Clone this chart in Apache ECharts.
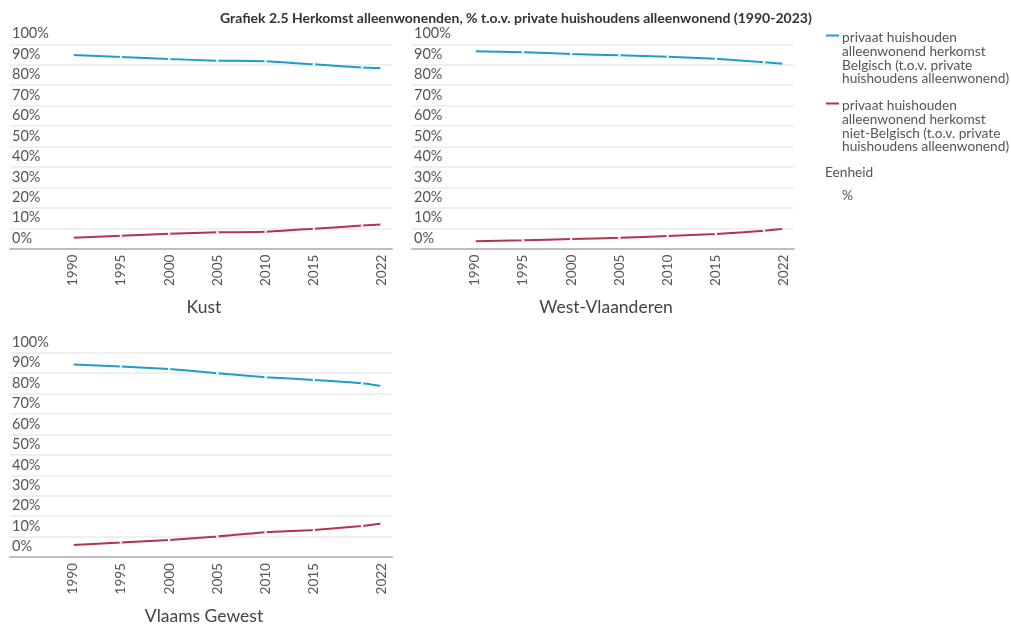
<!DOCTYPE html>
<html>
<head>
<meta charset="utf-8">
<script src="https://cdn.jsdelivr.net/npm/echarts@6/dist/echarts.min.js"></script>
<style>
html,body{margin:0;padding:0;background:#fff;}
#chart{width:1011px;height:626px;}
</style>
</head>
<body>
<div id="chart"></div>
<script>
const chartTitle = 'Grafiek 2.5 Herkomst alleenwonenden, % t.o.v. private huishoudens alleenwonend (1990-2023)';
const years = [1990, 1995, 2000, 2005, 2010, 2015, 2020, 2022];
const tickYears = [1990, 1995, 2000, 2005, 2010, 2015, 2022];
const regions = ['Kust', 'West-Vlaanderen', 'Vlaams Gewest'];
const seriesNames = [
  'privaat huishouden\nalleenwonend herkomst\nBelgisch (t.o.v. private\nhuishoudens alleenwonend)',
  'privaat huishouden\nalleenwonend herkomst\nniet-Belgisch (t.o.v. private\nhuishoudens alleenwonend)'
];
const unitLabel = 'Eenheid';
const unitValue = '%';

const kustBelgisch = [94.8, 93.8, 92.8, 92.0, 91.7, 90.2, 88.7, 88.4];
const kustNietBelgisch = [5.3, 6.3, 7.3, 8.0, 8.3, 9.8, 11.3, 11.8];
const wvlBelgisch = [96.6, 96.1, 95.3, 94.6, 93.9, 92.9, 91.2, 90.5];
const wvlNietBelgisch = [3.6, 4.1, 4.7, 5.3, 6.2, 7.2, 8.8, 9.7];
const vgBelgisch = [94.2, 93.2, 92.0, 90.0, 88.0, 86.7, 85.1, 83.7];
const vgNietBelgisch = [5.9, 7.1, 8.4, 10.1, 12.2, 13.3, 15.2, 16.4];

const regionData = [
  [kustBelgisch, kustNietBelgisch],
  [wvlBelgisch, wvlNietBelgisch],
  [vgBelgisch, vgNietBelgisch]
];

const colors = ['#1f9dc9', '#b3354b'];
const FONT = 'Lato';
const panels = [
  {left: 10, top: 44.3},
  {left: 412, top: 44.3},
  {left: 10, top: 352.7}
];
const PW = 382, PH = 204.4;

const grid = [], xAxis = [], yAxis = [], series = [], graphic = [];

panels.forEach((p, i) => {
  grid.push({left: p.left, top: p.top, width: PW, height: PH, containLabel: false});
  xAxis.push({
    type: 'value', gridIndex: i, min: 1983.5, max: 2023.1,
    axisLine: {show: true, lineStyle: {color: '#bdbdbd', width: 2}},
    axisTick: {show: false},
    splitLine: {show: false},
    axisLabel: {
      customValues: tickYears, rotate: 90, margin: 6,
      color: '#555', fontFamily: FONT, fontSize: 13.5,
      formatter: v => String(v)
    }
  });
  yAxis.push({
    type: 'value', gridIndex: i, min: 0, max: 100, interval: 10,
    axisLine: {show: false}, axisTick: {show: false},
    splitLine: {show: true, lineStyle: {color: '#ebebeb', width: 1.5}},
    axisLabel: {
      inside: true, margin: 2, verticalAlign: 'bottom', padding: [0, 0, 3, 0],
      color: '#555', fontFamily: FONT, fontSize: 14.5,
      formatter: '{value}%'
    }
  });
  regionData[i].forEach((vals, s) => {
    series.push({
      type: 'line', xAxisIndex: i, yAxisIndex: i,
      name: seriesNames[s],
      data: years.map((y, k) => [y, vals[k]]),
      smooth: 0.15,
      symbol: 'circle', symbolSize: 2.5,
      itemStyle: {color: '#ffffff', borderWidth: 0},
      lineStyle: {color: colors[s], width: 2},
      emphasis: {disabled: true},
      z: 3
    });
  });
  graphic.push({
    type: 'text', x: p.left + PW / 2 + 3, y: p.top + PH + 59,
    style: {text: regions[i], fontFamily: FONT, fontSize: 17.5, fill: '#444', textAlign: 'center', textVerticalAlign: 'middle'}
  });
});

// legend (drawn from the series names and colours)
const legendTops = [31, 99];
seriesNames.forEach((name, s) => {
  graphic.push({
    type: 'rect', x: 826, y: legendTops[s] + 3.5, shape: {x: 0, y: 0, width: 13, height: 2},
    style: {fill: colors[s]}
  });
  graphic.push({
    type: 'text', x: 842, y: legendTops[s],
    style: {text: name, fontFamily: FONT, fontSize: 13.7, lineHeight: 13.7, fill: '#555'}
  });
});
graphic.push({
  type: 'text', x: 825, y: 166,
  style: {text: unitLabel, fontFamily: FONT, fontSize: 13.7, fill: '#555'}
});
graphic.push({
  type: 'text', x: 842, y: 189,
  style: {text: unitValue, fontFamily: FONT, fontSize: 13.7, fill: '#555'}
});

const chart = echarts.init(document.getElementById('chart'), null, {renderer: 'canvas'});
chart.setOption({
  animation: false,
  backgroundColor: '#ffffff',
  title: {
    text: chartTitle, left: 215, top: 6,
    textStyle: {fontFamily: FONT, fontSize: 14, fontWeight: 'bold', color: '#333'}
  },
  grid, xAxis, yAxis, series, graphic
});
</script>
</body>
</html>
